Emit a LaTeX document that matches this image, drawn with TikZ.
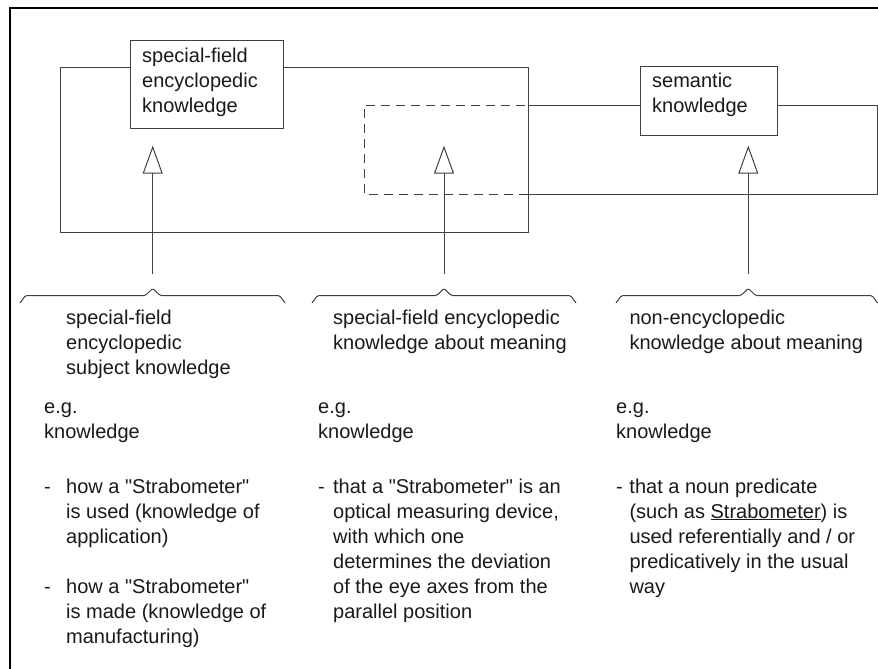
\documentclass[tikz,border=0pt]{standalone}
\usepackage{fontspec}
\setmainfont{Liberation Sans}[Ligatures=TeXOff]
\usetikzlibrary{arrows.meta}
\definecolor{lc}{HTML}{404040}
\definecolor{tc}{HTML}{1A1A1A}
\newcommand{\bxtext}[4]{\parbox[c][#1][t]{#2}{\leftskip=11.7pt\vspace*{#3}\strut #4}}
\newcommand{\blk}[2]{\parbox[t]{300pt}{\hangindent=#1\hangafter=1 #2}}
\begin{document}
\begin{tikzpicture}[x=1pt,y=-1pt,
  frame/.style={draw=black, line width=1.3pt},
  thin/.style={draw=lc, line width=1pt},
  dashline/.style={draw=lc, line width=1pt, dash pattern=on 9pt off 6pt},
  kbox/.style={draw=lc, line width=1pt, fill=white, inner sep=0pt, anchor=north west, text=tc,
    font=\fontsize{20}{25}\selectfont},
  txt/.style={inner sep=0pt, anchor=base west, text=tc, font=\fontsize{20}{25}\selectfont},
  arr/.style={draw=lc, line width=1pt, -{Triangle[open, length=28pt, width=20pt]}},
  brace/.style={draw=lc, line width=1pt, rounded corners=1.5pt}
]
\useasboundingbox (0,0) rectangle (878,669);
\fill[white] (0,0) rectangle (878,669);
% outer frame
\draw[frame] (10,669) -- (10,8) -- (878,8);
% big solid rectangle
\draw[thin] (60.7,68) rectangle (528,232.7);
% second rectangle (dashed inside the first)
\draw[thin] (528,105) -- (877.3,105) -- (877.3,194) -- (528,194);
\draw[dashline] (528,194) -- (364,194) -- (364,105) -- (528,105);
% boxes
\node[kbox] (sfek) at (130,40) {\bxtext{88pt}{153pt}{4.4pt}{special-field\\encyclopedic\\knowledge}};
\node[kbox] (sem) at (640,65.7) {\bxtext{69.3pt}{137pt}{3.7pt}{semantic\\knowledge}};
% arrows
\coordinate (s1) at (152.7,274);
\coordinate (t1) at (152.7,145.7);
\coordinate (s2) at (444,274);
\coordinate (t2) at (444,145.7);
\coordinate (s3) at (748.3,274);
\coordinate (t3) at (748.3,145.7);
\draw[arr] (s1) -- (t1);
\draw[arr] (s2) -- (t2);
\draw[arr] (s3) -- (t3);
% braces
\draw[brace] (20,303) -- (25.5,295.5) -- (145.5,295.5) -- (152.7,288.3) -- (160,295.5) -- (279.5,295.5) -- (285,303);
\draw[brace] (312,303) -- (317.5,295.5) -- (436.8,295.5) -- (444,288.3) -- (451.2,295.5) -- (570.5,295.5) -- (576,303);
\draw[brace] (616,303) -- (621.5,295.5) -- (741,295.5) -- (748.3,288.3) -- (755.5,295.5) -- (872,295.5) -- (877.5,303);
% column 1
\node[txt] (c1a) at (66,324) {\blk{0pt}{special-field\\encyclopedic\\subject knowledge}};
\node[txt] (c1b) at (44,413.5) {\blk{0pt}{e.g.\\knowledge}};
\node[txt] (c1c) at (44,493) {\blk{22pt}{\makebox[22pt][l]{-}how a "Strabometer"\\is used (knowledge of\\application)}};
\node[txt] (c1d) at (44,593) {\blk{22pt}{\makebox[22pt][l]{-}how a "Strabometer"\\is made (knowledge of\\manufacturing)}};
% column 2
\node[txt] (c2a) at (333,324) {\blk{0pt}{special-field encyclopedic\\knowledge about meaning}};
\node[txt] (c2b) at (318,413.5) {\blk{0pt}{e.g.\\knowledge}};
\node[txt] (c2c) at (318,493) {\blk{15pt}{\makebox[15pt][l]{-}that a "Strabometer" is an\\optical measuring device,\\with which one\\determines the deviation\\of the eye axes from the\\parallel position}};
% column 3
\node[txt] (c3a) at (629.3,324) {\blk{0pt}{non-encyclopedic\\knowledge about meaning}};
\node[txt] (c3b) at (616,413.5) {\blk{0pt}{e.g.\\knowledge}};
\node[txt] (c3c) at (616,493) {\blk{13.3pt}{\makebox[13.3pt][l]{-}that a noun predicate\\(such as \underline{Strabometer}) is\\used referentially and / or\\predicatively in the usual\\way}};
\end{tikzpicture}
\end{document}
